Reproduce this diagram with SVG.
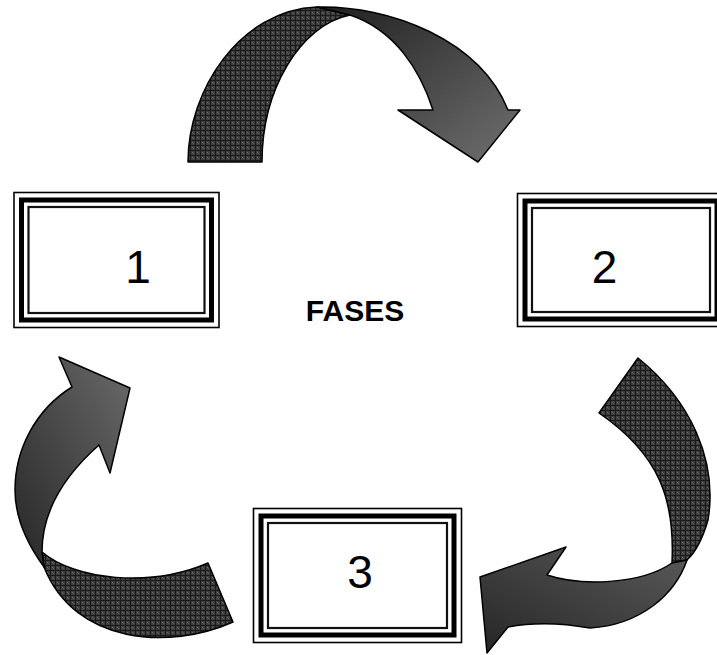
<svg xmlns="http://www.w3.org/2000/svg" width="717" height="655" viewBox="0 0 717 655">
<style>
.fo{fill:none;stroke:#000;stroke-width:1.6}
.ft{fill:none;stroke:#000;stroke-width:5}
.fi{fill:none;stroke:#111;stroke-width:2.2}
.num{font-family:"Liberation Sans",Arial,sans-serif;font-size:46px;fill:#000;text-anchor:middle}
.lbl{font-family:"Liberation Sans",Arial,sans-serif;font-size:30px;font-weight:bold;fill:#000;text-anchor:middle}
.edge{stroke:#000;stroke-width:1.5;stroke-linejoin:round}
</style>
<defs>
<pattern id="hatch" width="5" height="5" patternUnits="userSpaceOnUse">
<rect width="5" height="5" fill="#3e3e3e"/>
<rect x="2" y="2" width="1" height="1" fill="#6e6e6e"/>
<rect x="3" y="3" width="1" height="1" fill="#5a5a5a"/>
<path d="M0 0.5H5M0.5 0V5" stroke="#1a1a1a" stroke-width="1"/>
</pattern>
<linearGradient id="gTop" x1="0" y1="0" x2="1" y2="1">
<stop offset="0" stop-color="#1e1e1e"/>
<stop offset="1" stop-color="#707070"/>
</linearGradient>
<linearGradient id="gRight" x1="1" y1="0" x2="0" y2="1">
<stop offset="0" stop-color="#5a5a5a"/>
<stop offset="1" stop-color="#262626"/>
</linearGradient>
<linearGradient id="gLeft" x1="0" y1="1" x2="1" y2="0">
<stop offset="0" stop-color="#262626"/>
<stop offset="1" stop-color="#6a6a6a"/>
</linearGradient>
</defs>

<g id="connectors">
<g id="arrow-top">
<path class="edge" fill="url(#hatch)" d="M188,162 C188,90 240,10 317,7 L350,15 C300,25 262,90 262,162 Z"/>
<path class="edge" fill="url(#gTop)" d="M317,7 C390,5 480,40 508,110 L520,110 L478,162 L398,110 L433,110 C420,70 395,30 350,15 Z"/>
</g>
<g id="arrow-right">
<path class="edge" fill="url(#hatch)" d="M638,358 C690,400 718,460 708,520 Q700,548 687,560 L672,563 C675,500 660,455 599,413 Z"/>
<path class="edge" fill="url(#gRight)" d="M687,560 C675,595 640,625 590,628 Q545,620 508,627 L487,653 L480,577 L566,547 L547,575 C580,586 640,585 672,563 Z"/>
</g>
<g id="arrow-left">
<path class="edge" fill="url(#hatch)" d="M42,552 C75,580 150,588 208,563 L233,622 C170,650 75,645 44,567 Z"/>
<path class="edge" fill="url(#gLeft)" d="M42,552 C42,510 65,475 99,445 L110,473 L130,388 L59,357 L72,387 C35,410 15,450 15,490 C15,520 28,545 44,567 Z"/>
</g>
</g>

<g id="node1">
<rect class="fo" x="14" y="192.5" width="205" height="135"/>
<rect class="ft" x="21.5" y="200" width="190" height="120"/>
<rect class="fi" x="28.5" y="207" width="176" height="106"/>
<text class="num" x="138" y="283">1</text>
</g>
<g id="node2">
<rect class="fo" x="517.5" y="193.5" width="207" height="133"/>
<rect class="ft" x="525" y="201" width="192" height="118"/>
<rect class="fi" x="532" y="208" width="178" height="104"/>
<text class="num" x="604.5" y="283">2</text>
</g>
<g id="node3">
<rect class="fo" x="253.5" y="508.5" width="208" height="134"/>
<rect class="ft" x="261" y="516" width="193" height="119"/>
<rect class="fi" x="268" y="523" width="179" height="105"/>
<text class="num" x="360" y="588">3</text>
</g>
<g id="label">
<text class="lbl" x="355" y="321">FASES</text>
</g>
</svg>
